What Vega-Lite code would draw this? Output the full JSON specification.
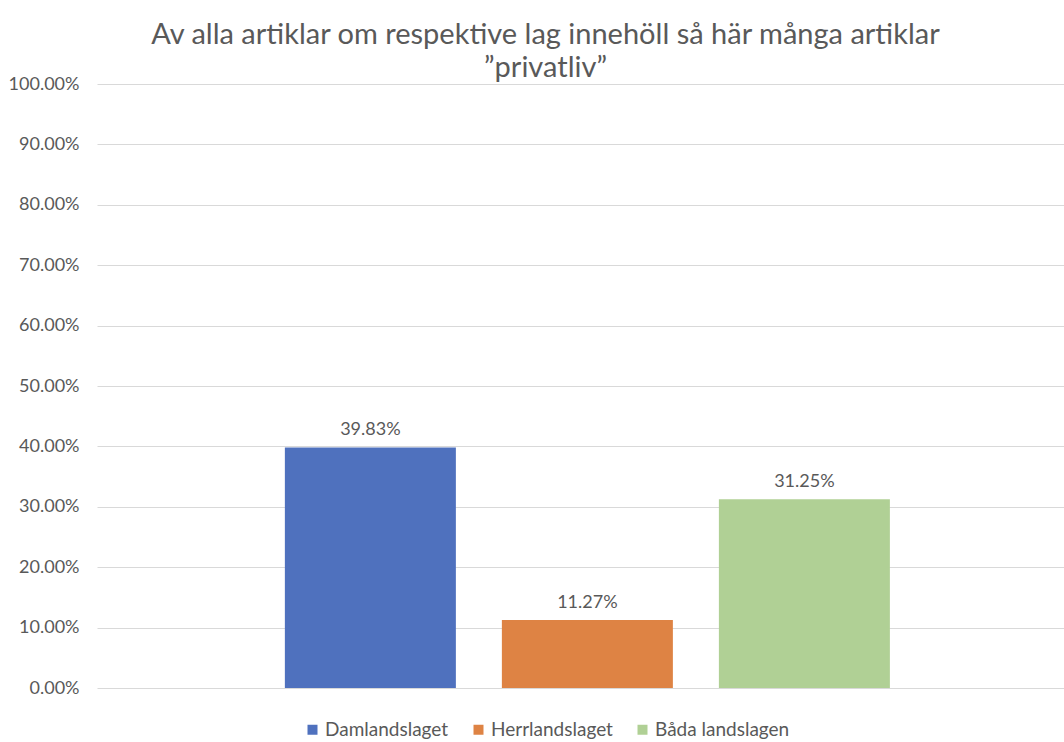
{
  "$schema": "https://vega.github.io/schema/vega-lite/v6.json",
  "autosize": "none",
  "width": 967,
  "height": 604,
  "padding": {"left": 97, "top": 84, "right": 0, "bottom": 54},
  "background": "white",
  "title": {
    "text": ["Av alla artiklar om respektive lag innehöll så här många artiklar", "”privatliv”"],
    "font": "Lato",
    "fontSize": 29,
    "fontWeight": "normal",
    "color": "#595959",
    "anchor": "middle",
    "offset": -8,
    "dx": -35,
    "lineHeight": 33
  },
  "data": {
    "values": [
      {"lag": "Damlandslaget", "andel": 0.3983},
      {"lag": "Herrlandslaget", "andel": 0.1127},
      {"lag": "Båda landslagen", "andel": 0.3125}
    ]
  },
  "encoding": {
    "x": {
      "field": "lag",
      "type": "nominal",
      "sort": null,
      "scale": {"paddingInner": 0.212, "paddingOuter": 0.834, "align": 0.519},
      "axis": null
    },
    "y": {
      "field": "andel",
      "type": "quantitative",
      "scale": {"domain": [0, 1], "nice": false},
      "axis": {
        "title": null,
        "format": ".2%",
        "values": [0, 0.1, 0.2, 0.3, 0.4, 0.5, 0.6, 0.7, 0.8, 0.9, 1],
        "domain": false,
        "ticks": false,
        "labelPadding": 18,
        "labelFont": "Lato",
        "labelFontSize": 18,
        "labelColor": "#595959",
        "gridColor": "#d9d9d9",
        "gridWidth": 1
      }
    }
  },
  "layer": [
    {
      "mark": {"type": "bar"},
      "encoding": {
        "color": {
          "field": "lag",
          "type": "nominal",
          "sort": null,
          "scale": {
            "domain": ["Damlandslaget", "Herrlandslaget", "Båda landslagen"],
            "range": ["#4F71BE", "#DE8344", "#B0D095"]
          },
          "legend": {
            "title": null,
            "orient": "none",
            "direction": "horizontal",
            "legendX": 206,
            "legendY": 636,
            "symbolType": "square",
            "symbolSize": 100,
            "symbolStrokeWidth": 0,
            "labelFont": "Lato",
            "labelFontSize": 19,
            "labelColor": "#595959",
            "columnPadding": 20,
            "labelOffset": 3
          }
        }
      }
    },
    {
      "mark": {"type": "text", "baseline": "alphabetic", "dy": -12, "font": "Lato", "fontSize": 18, "color": "#595959"},
      "encoding": {
        "text": {"field": "andel", "type": "quantitative", "format": ".2%"}
      }
    }
  ],
  "config": {"view": {"stroke": null}}
}
